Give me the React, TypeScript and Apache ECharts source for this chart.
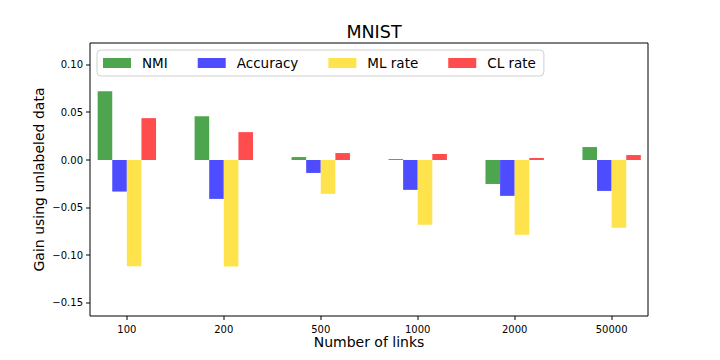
import React, { useEffect, useRef } from "react";
import * as echarts from "echarts";

const categories = ["100", "200", "500", "1000", "2000", "50000"];
const nmi = [0.0723, 0.046, 0.0031, 0.001, -0.0252, 0.0136];
const accuracy = [-0.0332, -0.0409, -0.0136, -0.0314, -0.0377, -0.0325];
const mlRate = [-0.1118, -0.112, -0.0356, -0.068, -0.0786, -0.0713];
const clRate = [0.044, 0.0293, 0.0073, 0.0063, 0.0021, 0.0052];
const yTicks = [-0.15, -0.1, -0.05, 0.0, 0.05, 0.1];

const FONT = "DejaVu Sans";
const X_MIN = -0.38;
const X_MAX = 5.375;
const Y_MIN = -0.164;
const Y_MAX = 0.123;

export default function App() {
  const ref = useRef<HTMLDivElement>(null);
  useEffect(() => {
    if (!ref.current) return;
    const chart = echarts.init(ref.current, undefined, { renderer: "svg" });
    const idx = categories.map((_, i) => i);
    const mk = (name: string, vals: number[], color: string) => ({
      name,
      type: "bar",
      data: vals.map((v, i) => [i, v]),
      barWidth: 14.6,
      barGap: "0%",
      itemStyle: { color },
    });
    const tickSeries = (data: number[][], horizontal: boolean) => ({
      type: "custom",
      silent: true,
      clip: false,
      z: 10,
      data,
      renderItem: (_p: any, api: any) => {
        const pt = api.coord([api.value(0), api.value(1)]);
        const x = Math.round(pt[0]);
        const y = Math.round(pt[1]);
        return horizontal
          ? { type: "rect", shape: { x: x - 4, y: y - 0.5, width: 4, height: 1 }, style: { fill: "#000" } }
          : { type: "rect", shape: { x: x - 0.5, y: y, width: 1, height: 4 }, style: { fill: "#000" } };
      },
    });
    chart.setOption({
      animation: false,
      textStyle: { fontFamily: FONT },
      title: {
        text: "MNIST",
        left: 369,
        textAlign: "center",
        top: 18,
        textStyle: { fontFamily: FONT, fontSize: 17.5, fontWeight: "normal", color: "#000" },
      },
      legend: {
        left: 97,
        top: 50,
        itemWidth: 28,
        itemHeight: 10,
        itemGap: 30,
        padding: [6, 8, 6, 6],
        borderColor: "#d0d0d0",
        borderWidth: 1,
        borderRadius: 4,
        backgroundColor: "rgba(255,255,255,0.8)",
        icon: "rect",
        textStyle: { fontFamily: FONT, fontSize: 13.5, color: "#000", padding: [0, 0, 0, 6] },
        data: ["NMI", "Accuracy", "ML rate", "CL rate"],
      },
      grid: {
        left: 90,
        top: 43,
        width: 558,
        height: 273,
        show: true,
        borderColor: "#000",
        borderWidth: 1,
        backgroundColor: "transparent",
      },
      xAxis: {
        type: "value",
        min: X_MIN,
        max: X_MAX,
        name: "Number of links",
        nameLocation: "middle",
        nameGap: 19,
        nameMoveOverlap: false,
        nameTextStyle: { fontFamily: FONT, fontSize: 14, color: "#000" },
        axisLine: { show: false, onZero: false },
        splitLine: { show: false },
        axisTick: { show: false },
        axisLabel: {
          customValues: idx,
          formatter: (v: number) => categories[Math.round(v)] ?? "",
          fontFamily: FONT,
          fontSize: 10,
          color: "#000",
          margin: 8,
        },
      },
      yAxis: {
        type: "value",
        min: Y_MIN,
        max: Y_MAX,
        name: "Gain using unlabeled data",
        nameLocation: "middle",
        nameGap: 44,
        nameMoveOverlap: false,
        nameTextStyle: { fontFamily: FONT, fontSize: 14, color: "#000" },
        axisLine: { show: false, onZero: false },
        splitLine: { show: false },
        axisTick: { show: false },
        axisLabel: {
          customValues: yTicks,
          formatter: (v: number) => v.toFixed(2).replace("-", "\u2212"),
          fontFamily: FONT,
          fontSize: 10,
          color: "#000",
          margin: 7,
        },
      },
      series: [
        mk("NMI", nmi, "#4da64d"),
        mk("Accuracy", accuracy, "#4d4dff"),
        mk("ML rate", mlRate, "#ffe34d"),
        mk("CL rate", clRate, "#ff4d4d"),
        tickSeries(yTicks.map((v) => [X_MIN, v]), true),
        tickSeries(idx.map((i) => [i, Y_MIN]), false),
      ],
    });
    return () => chart.dispose();
  }, []);
  return (
    <div
      ref={ref}
      style={{ position: "fixed", left: 0, top: 0, width: 720, height: 360, background: "#fff" }}
    />
  );
}
